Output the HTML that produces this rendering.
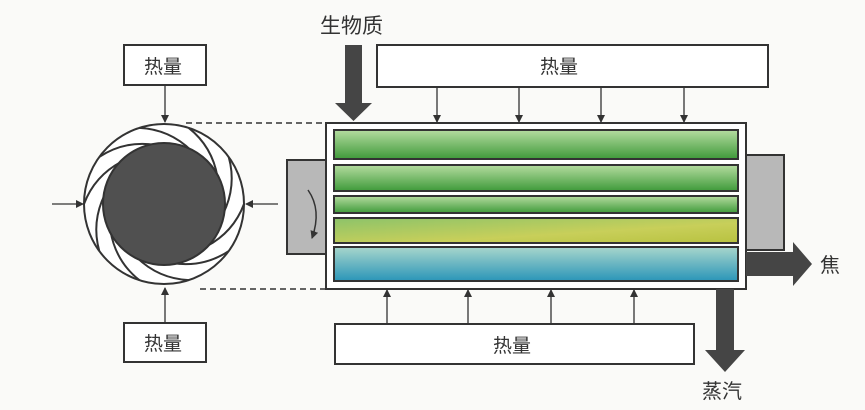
<!DOCTYPE html>
<html><head><meta charset="utf-8"><style>
html,body{margin:0;padding:0;background:#fafaf8;}
svg{display:block}
text{font-family:"Liberation Sans","Noto Sans CJK SC",sans-serif;fill:#333}
</style></head><body>
<svg id="s" width="865" height="410" viewBox="0 0 865 410" xmlns="http://www.w3.org/2000/svg">
<defs>
<marker id="ah" markerWidth="8" markerHeight="8" refX="7" refY="4" orient="auto" markerUnits="userSpaceOnUse"><path d="M0,0 L8,4 L0,8 Z" fill="#333"/></marker>
<linearGradient id="g1" x1="0" y1="0" x2="0" y2="1"><stop offset="0" stop-color="#b5dca0"/><stop offset="1" stop-color="#3f9a3a"/></linearGradient>
<linearGradient id="g4" x1="0" y1="0" x2="1" y2="1"><stop offset="0" stop-color="#8cc36a"/><stop offset="0.6" stop-color="#c8cf5a"/><stop offset="1" stop-color="#b8c240"/></linearGradient>
<linearGradient id="g5" x1="0" y1="0" x2="0" y2="1"><stop offset="0" stop-color="#a8d6cc"/><stop offset="1" stop-color="#2a95b8"/></linearGradient>
</defs>
<rect width="865" height="410" fill="#fafaf8"/>
<g stroke="#333" stroke-width="2" fill="#fff">
<rect x="124" y="45" width="82" height="40"/>
<rect x="124" y="323" width="82" height="39"/>
<rect x="377" y="45" width="391" height="42"/>
<rect x="335" y="324" width="359" height="40"/>
<rect x="287" y="160" width="39" height="94" fill="#b8b8b8"/>
<rect x="746" y="155" width="38" height="95" fill="#b8b8b8"/>
<rect x="326" y="123" width="420" height="166"/>
</g>
<g stroke="#333" stroke-width="2">
<rect x="334" y="130" width="404" height="29" fill="url(#g1)"/>
<rect x="334" y="165" width="404" height="26" fill="url(#g1)"/>
<rect x="334" y="196" width="404" height="17" fill="url(#g1)"/>
<rect x="334" y="218" width="404" height="25" fill="url(#g4)"/>
<rect x="334" y="247" width="404" height="34" fill="url(#g5)"/>
</g>
<path d="M308,190 Q322,210 312,238" fill="none" stroke="#333" stroke-width="1.5" marker-end="url(#ah)"/>
<g stroke="#333" stroke-width="1.5" stroke-dasharray="6,4">
<line x1="186" y1="123" x2="326" y2="123"/>
<line x1="200" y1="289" x2="326" y2="289"/>
</g>
<g stroke="#333" stroke-width="1.3" fill="none" marker-end="url(#ah)">
<line x1="165" y1="85" x2="165" y2="122"/>
<line x1="165" y1="323" x2="165" y2="288"/>
<line x1="52" y1="204" x2="83" y2="204"/>
<line x1="278" y1="204" x2="246" y2="204"/>
<line x1="437" y1="87" x2="437" y2="122"/>
<line x1="519" y1="87" x2="519" y2="122"/>
<line x1="601" y1="87" x2="601" y2="122"/>
<line x1="684" y1="87" x2="684" y2="122"/>
<line x1="387" y1="324" x2="387" y2="290"/>
<line x1="468" y1="324" x2="468" y2="290"/>
<line x1="551" y1="324" x2="551" y2="290"/>
<line x1="634" y1="324" x2="634" y2="290"/>
</g>
<circle cx="164" cy="204" r="80" fill="#fff" stroke="#333" stroke-width="2"/>
<g id="blades" stroke="#333" stroke-width="2" fill="none"></g>
<circle cx="164" cy="204" r="61" fill="#505050" stroke="#333" stroke-width="2"/>
<path d="M345,45 H362 V103 H372 L353.5,121 L335,103 H345 Z" fill="#454545"/>
<path d="M746,252 H793 V242 L812,264 L793,286 V276 H746 Z" fill="#454545"/>
<path d="M716,289 H734 V350 H745 L725,372 L705,350 H716 Z" fill="#454545"/>
<text x="320" y="33" font-size="21">生物质</text>
<text x="144" y="73" font-size="19">热量</text>
<text x="144" y="350" font-size="19">热量</text>
<text x="540" y="73" font-size="19">热量</text>
<text x="493" y="352" font-size="19">热量</text>
<text x="820" y="272" font-size="20">焦</text>
<text x="702" y="398" font-size="20">蒸汽</text>
</svg>
<script>
var g=document.getElementById('blades'),cx=164,cy=204,s='';
for(var i=0;i<10;i++){var a=i*36*Math.PI/180,b=a+45*Math.PI/180,m=a+22*Math.PI/180;
var x1=cx+80*Math.cos(a),y1=cy+80*Math.sin(a),x2=cx+60*Math.cos(b),y2=cy+60*Math.sin(b),qx=cx+75*Math.cos(m),qy=cy+75*Math.sin(m);
s+='<path d="M'+x1+','+y1+' Q'+qx+','+qy+' '+x2+','+y2+'"/>';}
g.innerHTML=s;
</script>
</body></html>
